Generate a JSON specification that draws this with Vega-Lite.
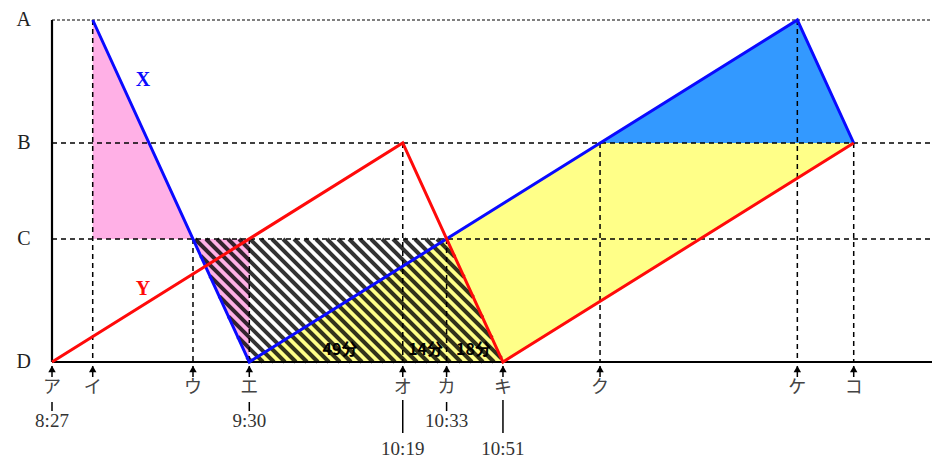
{
  "$schema": "https://vega.github.io/schema/vega-lite/v6.json",
  "width": 880,
  "height": 342,
  "autosize": {"type": "none"},
  "padding": {"left": 52, "top": 20, "right": 2, "bottom": 114},
  "background": "white",
  "config": {"view": {"stroke": null}},
  "resolve": {"scale": {"color": "independent"}},
  "encoding": {
    "x": {"field": "t", "type": "quantitative", "scale": {"domain": [0, 281], "nice": false, "zero": false}, "axis": null},
    "y": {"field": "v", "type": "quantitative", "stack": null, "scale": {"domain": [0, 342], "nice": false, "zero": false}, "axis": null}
  },
  "layer": [
    {
      "data": {"values": [
        {"shape": "pink1", "t": 13, "v": 342, "v2": 123},
        {"shape": "pink1", "t": 45.02, "v": 123, "v2": 123},
        {"shape": "pink2", "t": 45.02, "v": 123, "v2": 123},
        {"shape": "pink2", "t": 63, "v": 123, "v2": 0},
        {"shape": "yellow", "t": 63, "v": 0, "v2": 0},
        {"shape": "yellow", "t": 144, "v": 158.4, "v2": 0},
        {"shape": "yellow", "t": 175, "v": 219, "v2": 60.6},
        {"shape": "yellow", "t": 256, "v": 219, "v2": 219},
        {"shape": "blue", "t": 175, "v": 219, "v2": 219},
        {"shape": "blue", "t": 238, "v": 342, "v2": 219},
        {"shape": "blue", "t": 256, "v": 219, "v2": 219}
      ]},
      "mark": {"type": "area", "opacity": 1},
      "encoding": {
        "y2": {"field": "v2"},
        "color": {"field": "shape", "type": "nominal", "legend": null,
          "scale": {"domain": ["pink1", "pink2", "yellow", "blue"], "range": ["#ffb0e6", "#ffb0e6", "#ffff88", "#3399ff"]}}
      }
    },
    {
      "data": {"values": [
        {"t": 62.27, "v": 5.0, "t2": 63.86, "v2": 0},
        {"t": 59.30, "v": 25.3, "t2": 67.38, "v2": 0},
        {"t": 56.33, "v": 45.6, "t2": 70.89, "v2": 0},
        {"t": 53.39, "v": 65.8, "t2": 74.40, "v2": 0},
        {"t": 50.42, "v": 86.1, "t2": 77.91, "v2": 0},
        {"t": 47.45, "v": 106.4, "t2": 81.43, "v2": 0},
        {"t": 45.66, "v": 123, "t2": 84.94, "v2": 0},
        {"t": 49.18, "v": 123, "t2": 88.45, "v2": 0},
        {"t": 52.69, "v": 123, "t2": 91.96, "v2": 0},
        {"t": 56.20, "v": 123, "t2": 95.48, "v2": 0},
        {"t": 59.71, "v": 123, "t2": 98.99, "v2": 0},
        {"t": 63.23, "v": 123, "t2": 102.50, "v2": 0},
        {"t": 66.74, "v": 123, "t2": 106.01, "v2": 0},
        {"t": 70.25, "v": 123, "t2": 109.53, "v2": 0},
        {"t": 73.76, "v": 123, "t2": 113.04, "v2": 0},
        {"t": 77.28, "v": 123, "t2": 116.55, "v2": 0},
        {"t": 80.79, "v": 123, "t2": 120.06, "v2": 0},
        {"t": 84.30, "v": 123, "t2": 123.58, "v2": 0},
        {"t": 87.81, "v": 123, "t2": 127.09, "v2": 0},
        {"t": 91.33, "v": 123, "t2": 130.60, "v2": 0},
        {"t": 94.84, "v": 123, "t2": 134.11, "v2": 0},
        {"t": 98.35, "v": 123, "t2": 137.63, "v2": 0},
        {"t": 101.86, "v": 123, "t2": 141.14, "v2": 0},
        {"t": 105.38, "v": 123, "t2": 143.48, "v2": 3.7},
        {"t": 108.89, "v": 123, "t2": 140.50, "v2": 24.0},
        {"t": 112.40, "v": 123, "t2": 137.53, "v2": 44.3},
        {"t": 115.91, "v": 123, "t2": 134.56, "v2": 64.6},
        {"t": 119.43, "v": 123, "t2": 131.59, "v2": 84.9},
        {"t": 122.94, "v": 123, "t2": 128.62, "v2": 105.2}
      ]},
      "mark": {"type": "rule", "color": "black", "opacity": 0.8, "strokeWidth": 4, "strokeCap": "butt"},
      "encoding": {"x2": {"field": "t2"}, "y2": {"field": "v2"}}
    },
    {
      "data": {"values": [{"t": 0, "t2": 281, "v": 342}]},
      "mark": {"type": "rule", "color": "black", "strokeWidth": 1.2, "strokeDash": [3, 2]},
      "encoding": {"x2": {"field": "t2"}}
    },
    {
      "data": {"values": [{"t": 0, "t2": 281, "v": 219}, {"t": 0, "t2": 281, "v": 123}]},
      "mark": {"type": "rule", "color": "black", "strokeWidth": 1.5, "strokeDash": [5, 4]},
      "encoding": {"x2": {"field": "t2"}}
    },
    {
      "data": {"values": [
        {"t": 13, "v": 342, "v2": 0},
        {"t": 45.02, "v": 123, "v2": 0},
        {"t": 63, "v": 123, "v2": 0},
        {"t": 112, "v": 219, "v2": 0},
        {"t": 126, "v": 123, "v2": 0},
        {"t": 175, "v": 219, "v2": 0},
        {"t": 238, "v": 342, "v2": 0},
        {"t": 256, "v": 219, "v2": 0}
      ]},
      "mark": {"type": "rule", "color": "black", "strokeWidth": 1.5, "strokeDash": [5, 4]},
      "encoding": {"y2": {"field": "v2"}}
    },
    {
      "data": {"values": [{"t": 0, "t2": 281, "v": 0, "v2": 0}, {"t": 0, "t2": 0, "v": 0, "v2": 342}]},
      "mark": {"type": "rule", "color": "black", "strokeWidth": 2.2},
      "encoding": {"x2": {"field": "t2"}, "y2": {"field": "v2"}}
    },
    {
      "data": {"values": [
        {"s": "X", "i": 0, "t": 13, "v": 342},
        {"s": "X", "i": 1, "t": 63, "v": 0},
        {"s": "X", "i": 2, "t": 238, "v": 342},
        {"s": "X", "i": 3, "t": 256, "v": 219},
        {"s": "Y", "i": 0, "t": 0, "v": 0},
        {"s": "Y", "i": 1, "t": 112, "v": 219},
        {"s": "Y", "i": 2, "t": 144, "v": 0},
        {"s": "Y", "i": 3, "t": 256, "v": 219}
      ]},
      "mark": {"type": "line", "strokeWidth": 3},
      "encoding": {
        "order": {"field": "i", "type": "quantitative"},
        "color": {"field": "s", "type": "nominal", "legend": null, "scale": {"domain": ["X", "Y"], "range": ["#0a0aff", "#ff0a0a"]}}
      }
    },
    {
      "data": {"values": [
        {"t": 0, "v": -4, "v2": -15}, {"t": 13, "v": -4, "v2": -15}, {"t": 45.02, "v": -4, "v2": -15},
        {"t": 63, "v": -4, "v2": -15}, {"t": 112, "v": -4, "v2": -15}, {"t": 126, "v": -4, "v2": -15},
        {"t": 144, "v": -4, "v2": -15}, {"t": 175, "v": -4, "v2": -15}, {"t": 238, "v": -4, "v2": -15},
        {"t": 256, "v": -4, "v2": -15},
        {"t": 0, "v": -40, "v2": -49}, {"t": 63, "v": -40, "v2": -49}, {"t": 126, "v": -40, "v2": -49},
        {"t": 112, "v": -38, "v2": -71}, {"t": 144, "v": -38, "v2": -71}
      ]},
      "mark": {"type": "rule", "color": "black", "strokeWidth": 1.5},
      "encoding": {"y2": {"field": "v2"}}
    },
    {
      "data": {"values": [
        {"t": 0, "v": -7}, {"t": 13, "v": -7}, {"t": 45.02, "v": -7}, {"t": 63, "v": -7}, {"t": 112, "v": -7},
        {"t": 126, "v": -7}, {"t": 144, "v": -7}, {"t": 175, "v": -7}, {"t": 238, "v": -7}, {"t": 256, "v": -7}
      ]},
      "mark": {"type": "point", "shape": "triangle-up", "filled": true, "size": 55, "color": "black", "opacity": 1}
    },
    {
      "data": {"values": [
        {"t": 0, "v": -26, "l": "ア"}, {"t": 13, "v": -26, "l": "イ"}, {"t": 45.02, "v": -26, "l": "ウ"},
        {"t": 63, "v": -26, "l": "エ"}, {"t": 112, "v": -26, "l": "オ"}, {"t": 126, "v": -26, "l": "カ"},
        {"t": 144, "v": -26, "l": "キ"}, {"t": 175, "v": -26, "l": "ク"}, {"t": 238, "v": -26, "l": "ケ"},
        {"t": 256, "v": -26, "l": "コ"}
      ]},
      "mark": {"type": "text", "font": "Noto Sans CJK JP", "fontSize": 18, "color": "#444", "align": "center", "baseline": "middle"},
      "encoding": {"text": {"field": "l"}}
    },
    {
      "data": {"values": [
        {"t": 0, "v": -59, "l": "8:27"}, {"t": 63, "v": -59, "l": "9:30"}, {"t": 126, "v": -59, "l": "10:33"},
        {"t": 112, "v": -87, "l": "10:19"}, {"t": 144, "v": -87, "l": "10:51"}
      ]},
      "mark": {"type": "text", "font": "Liberation Serif", "fontSize": 19, "color": "#333", "align": "center", "baseline": "middle"},
      "encoding": {"text": {"field": "l"}}
    },
    {
      "data": {"values": [
        {"t": -9, "v": 342, "l": "A"}, {"t": -9, "v": 219, "l": "B"}, {"t": -9, "v": 123, "l": "C"}, {"t": -9, "v": 0, "l": "D"}
      ]},
      "mark": {"type": "text", "font": "Liberation Serif", "fontSize": 20, "color": "#222", "align": "center", "baseline": "middle"},
      "encoding": {"text": {"field": "l"}}
    },
    {
      "data": {"values": [
        {"t": 29.06, "v": 282, "l": "X", "c": "X"}, {"t": 29.06, "v": 73, "l": "Y", "c": "Y"}
      ]},
      "mark": {"type": "text", "font": "Liberation Serif", "fontSize": 20, "fontWeight": "bold", "align": "center", "baseline": "middle"},
      "encoding": {
        "text": {"field": "l"},
        "color": {"field": "c", "type": "nominal", "legend": null, "scale": {"domain": ["X", "Y"], "range": ["#0a0aff", "#ff0a0a"]}}
      }
    },
    {
      "data": {"values": [
        {"t": 91.96, "v": 12, "l": "49分"}, {"t": 119.3, "v": 12, "l": "14分"}, {"t": 134.6, "v": 12, "l": "18分"}
      ]},
      "mark": {"type": "text", "font": "Noto Sans CJK JP", "fontSize": 16, "fontWeight": "bold", "color": "black", "align": "center", "baseline": "middle"},
      "encoding": {"text": {"field": "l"}}
    }
  ]
}
